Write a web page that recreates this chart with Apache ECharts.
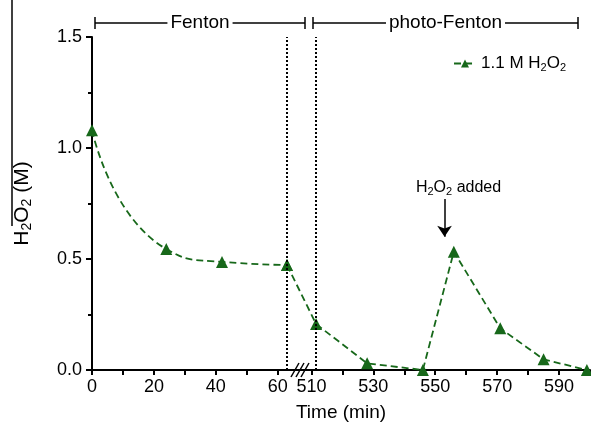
<!DOCTYPE html>
<html lang="en" style="height: 100%">
<head>
  <meta charset="utf-8">
</head>
<body style="height: 100%; margin: 0">
  <div id="container" style="width: 591px; height: 432px"></div>
  <script type="text/javascript" src="https://cdn.jsdelivr.net/npm/echarts@6/dist/echarts.min.js"></script>
  <script type="text/javascript">
    // Fenton stage (smooth curve) and photo-Fenton stage (straight segments)
    var timeFenton = [0, 24, 42, 63];
    var h2o2Fenton = [1.08, 0.545, 0.487, 0.473];
    var timePhoto = [63, 511.5, 528, 546, 556, 571, 585, 599];
    var h2o2Photo = [0.473, 0.207, 0.03, 0, 0.533, 0.188, 0.048, 0];
    var xLabels = [0, 20, 40, 60, 510, 530, 550, 570, 590];
    var xTicks = [0, 10, 20, 30, 40, 50, 60, 510, 520, 530, 540, 550, 560, 570, 580, 590, 600];
    var phaseLines = [63, 511.5];
    var addedTime = 553;
    var addedFrom = 0.77, addedTo = 0.6;

    var seriesName = '1.1 M H2O2';
    var green = '#17681a';
    var font = '"Liberation Sans", Arial, sans-serif';

    var dom = document.getElementById('container');
    var myChart = echarts.init(dom, null, { renderer: 'canvas' });

    function pairs(xs, ys) {
      return xs.map(function (x, i) { return [x, ys[i]]; });
    }

    var lineStyle = { color: green, width: 1.8, type: [7, 4] };

    var option = {
      animation: false,
      textStyle: { fontFamily: font },
      grid: { left: 92, right: 1, top: 37, bottom: 62 },
      legend: {
        top: 50,
        right: 20,
        itemWidth: 22,
        itemHeight: 10,
        itemGap: 6,
        formatter: function () { return '1.1 M H{s|2}O{s|2}'; },
        textStyle: {
          fontSize: 17, color: '#000', fontFamily: font,
          rich: { s: { fontSize: 11, padding: [8, 0, 0, 0], fontFamily: font } }
        },
        data: [seriesName]
      },
      xAxis: {
        type: 'value',
        min: 0,
        max: 600,
        interval: 10,
        breaks: [{ start: 63.5, end: 510, gap: '4.6%' }],
        breakArea: { show: false },
        axisLine: { show: true, breakLine: false, lineStyle: { color: '#000', width: 2 } },
        axisTick: { show: true, length: 5, customValues: xTicks, lineStyle: { color: '#000', width: 2 } },
        axisLabel: {
          fontSize: 18, color: '#000', margin: 8, hideOverlap: false,
          customValues: xLabels,
          formatter: function (v) { return String(v); }
        },
        splitLine: { show: false },
        name: 'Time (min)',
        nameLocation: 'middle',
        nameGap: 33,
        nameTextStyle: { fontSize: 19, color: '#000' }
      },
      yAxis: {
        type: 'value',
        min: 0,
        max: 1.5,
        interval: 0.5,
        axisLine: { show: true, lineStyle: { color: '#000', width: 2 } },
        axisTick: { show: true, length: 6, lineStyle: { color: '#000', width: 2 } },
        minorTick: { show: true, splitNumber: 2, length: 4, lineStyle: { color: '#000', width: 2 } },
        axisLabel: {
          fontSize: 18, color: '#000', margin: 10,
          formatter: function (v) { return v.toFixed(1); }
        },
        splitLine: { show: false },
        name: 'H{s|2}O{s|2} (M)',
        nameLocation: 'middle',
        nameRotate: 90,
        nameGap: 58,
        nameTextStyle: {
          fontSize: 21, color: '#000',
          rich: { s: { fontSize: 14, padding: [10, 0, 0, 0] } }
        }
      },
      series: [
        {
          name: seriesName,
          type: 'line',
          smooth: 0.6,
          data: pairs(timeFenton, h2o2Fenton),
          symbol: 'triangle',
          symbolSize: 12,
          itemStyle: { color: green },
          lineStyle: lineStyle,
          markLine: {
            silent: true,
            symbol: 'none',
            label: { show: false },
            lineStyle: { color: '#000', type: [2, 2], width: 2 },
            data: phaseLines.map(function (x) { return { xAxis: x }; })
          }
        },
        {
          name: seriesName,
          type: 'line',
          data: pairs(timePhoto, h2o2Photo),
          symbol: 'triangle',
          symbolSize: 12,
          itemStyle: { color: green },
          lineStyle: lineStyle,
          markLine: {
            silent: true,
            symbol: ['none', 'arrow'],
            symbolSize: 11,
            label: { show: false },
            lineStyle: { color: '#000', type: 'solid', width: 1.5 },
            data: [[{ coord: [addedTime, addedFrom] }, { coord: [addedTime, addedTo] }]]
          },
          markPoint: {
            silent: true,
            symbol: 'circle',
            symbolSize: 0,
            label: {
              show: true,
              position: 'top',
              offset: [14, 3],
              color: '#000',
              fontSize: 16,
              formatter: 'H{s|2}O{s|2} added',
              rich: { s: { fontSize: 11, padding: [8, 0, 0, 0] } }
            },
            data: [{ coord: [addedTime, addedFrom] }]
          }
        }
      ]
    };

    myChart.setOption(option);

    // phase brackets, axis break marks and the stray line at the left edge
    var txt = function (s, x, y) {
      return {
        type: 'text', x: x, y: y,
        style: { text: s, fill: '#000', font: '19px ' + font, align: 'center', verticalAlign: 'middle',
          backgroundColor: '#fff', padding: [0, 3] },
        z: 10
      };
    };
    var seg = function (x1, y1, x2, y2) {
      return { type: 'line', shape: { x1: x1, y1: y1, x2: x2, y2: y2 }, style: { stroke: '#000', lineWidth: 1.5 }, z: 5 };
    };
    var bracket = function (a, b, y, label) {
      return [
        seg(a, y, b, y), seg(a, y - 6, a, y + 6), seg(b, y - 6, b, y + 6),
        txt(label, (a + b) / 2, y)
      ];
    };
    var x0 = myChart.convertToPixel({ xAxisIndex: 0 }, 63.5);
    var x1 = myChart.convertToPixel({ xAxisIndex: 0 }, 510);
    var mid = (x0 + x1) / 2;
    var axisY = myChart.convertToPixel({ yAxisIndex: 0 }, 0);
    var graphics = [].concat(
      bracket(95, 305, 23, 'Fenton'),
      bracket(313, 578, 23, 'photo-Fenton'),
      [-5, 0, 5].map(function (d) {
        return seg(mid + d - 4, axisY + 7, mid + d + 4, axisY - 7);
      }),
      [seg(12, 0, 12, 226)]
    );
    myChart.setOption({ graphic: graphics });

    window.addEventListener('resize', myChart.resize);
  </script>
</body>
</html>
